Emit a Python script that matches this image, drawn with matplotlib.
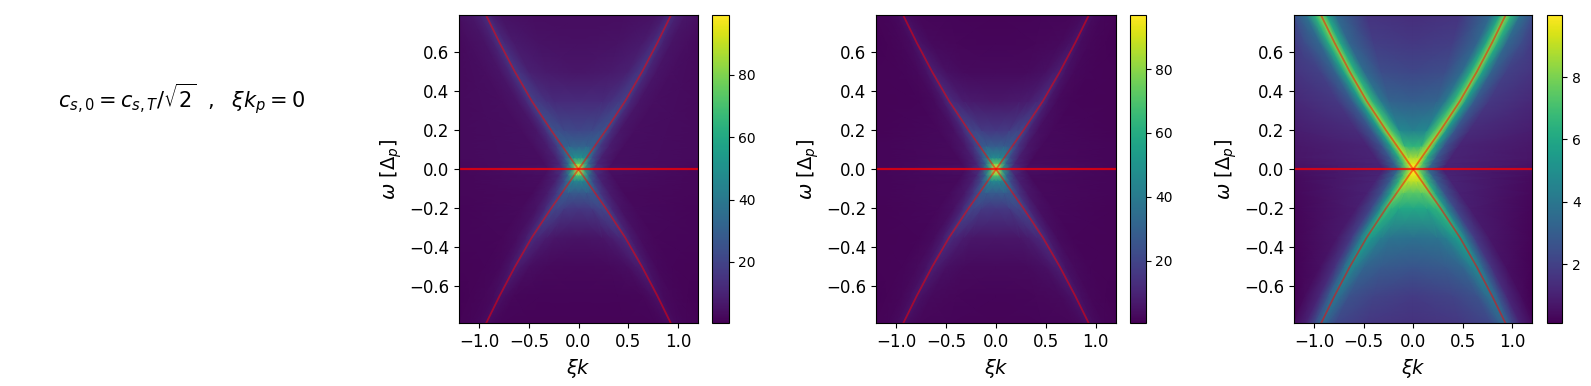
import numpy as np
import matplotlib
matplotlib.use("Agg")
import matplotlib.pyplot as plt

omega = [-0.79, -0.65, -0.5, -0.35, -0.2, -0.12, -0.06, -0.03, 0.0, 0.03, 0.06, 0.12, 0.2, 0.35, 0.5, 0.65, 0.79]
ridge_k = [0.93, 0.795, 0.64, 0.47, 0.275, 0.165, 0.083, 0.042, 0.0, 0.042, 0.083, 0.165, 0.275, 0.47, 0.64, 0.795, 0.93]

xticks = [-1.0, -0.5, 0.0, 0.5, 1.0]
yticks = [-0.6, -0.4, -0.2, 0.0, 0.2, 0.4, 0.6]

# intensity per row: k=0, half way to ridge, ridge-.15, ridge-.06, ridge, ridge+.06, ridge+.15, ridge+.3, edge
left_vals = [
    [1.2, 1.4, 1.8, 2.5, 3.5, 2.5, 1.6, 1.2, 1.0],
    [1.5, 1.8, 2.2, 3.5, 5, 3, 2, 1.3, 1],
    [2.5, 3, 4, 6.5, 8.5, 5, 2.5, 1.5, 1.2],
    [5, 6, 8, 11, 13, 7, 3.5, 2, 1.5],
    [16, 17, 18, 20, 21, 11, 5, 3, 1.8],
    [28, 28, 28, 28, 26, 15, 7, 3, 2],
    [45, 45, 45, 45, 43, 22, 9, 3.5, 2],
    [72, 72, 72, 72, 68, 33, 11, 4, 2],
    [99, 99, 99, 99, 99, 60, 16, 5, 2],
    [76, 76, 76, 76, 70, 34, 11, 4, 2.5],
    [50, 50, 50, 50, 46, 23, 9, 4, 3],
    [31, 31, 31, 31, 29, 16, 8, 4, 3],
    [21, 22, 22, 24, 25, 13, 6, 4, 3],
    [12, 12, 14, 17, 19, 11, 5.5, 4, 3],
    [6, 7, 9, 14, 17, 10, 5.5, 4, 3],
    [4.5, 5, 7, 11, 15, 9, 5, 4, 3],
    [3.5, 4, 5, 8, 13, 9, 6, 4.5, 4],
]
mid_vals = [
    [1.5, 1.7, 2.2, 3.2, 5, 3, 2, 1.5, 1.2],
    [2, 2.3, 3, 4.5, 6.5, 4, 2.3, 1.6, 1.2],
    [3, 3.5, 4.5, 7, 9, 5, 2.8, 1.8, 1.3],
    [6, 6.5, 8, 11, 13, 7, 3.2, 2, 1.5],
    [16, 17, 18, 20, 20, 10.5, 4.5, 2.5, 1.6],
    [28, 28, 28, 28, 26, 15, 6.5, 3, 2],
    [45, 45, 45, 45, 43, 22, 8.5, 3, 2],
    [72, 72, 72, 72, 68, 32, 10, 3.5, 2],
    [97, 97, 97, 97, 97, 59, 15, 4.5, 2],
    [73, 73, 73, 73, 69, 32, 10, 3.5, 2],
    [46, 46, 46, 46, 44, 22, 8.5, 3, 2],
    [28, 28, 28, 28, 26, 15, 6.5, 3, 2],
    [16, 17, 18, 20, 20, 10.5, 4.5, 2.5, 1.6],
    [6.5, 7, 8, 11, 13, 6.5, 3, 2, 1.5],
    [3, 3.5, 4.5, 7, 9, 5, 2.5, 1.8, 1.3],
    [2, 2.3, 3, 4.5, 6.5, 3.5, 2.1, 1.5, 1.2],
    [1.5, 1.8, 2.2, 3.2, 5, 3, 1.8, 1.4, 1.2],
]
right_vals = [
    [1.5, 1.7, 2.2, 3.0, 3.5, 2.3, 1.0, 0.4, 0.1],
    [1.8, 2.1, 2.6, 3.5, 4.0, 2.8, 1.2, 0.4, 0.12],
    [2.7, 2.9, 3.3, 4.2, 4.8, 3.3, 1.5, 0.5, 0.15],
    [3.8, 3.9, 4.3, 5.2, 5.8, 4.0, 1.8, 0.7, 0.2],
    [6.0, 6.0, 6.0, 6.4, 7.0, 4.7, 2.2, 0.9, 0.25],
    [7.4, 7.4, 7.4, 7.6, 8.0, 5.6, 2.6, 1.0, 0.3],
    [9.0, 9.0, 9.0, 9.0, 9.0, 6.5, 3.0, 1.1, 0.35],
    [9.7, 9.7, 9.7, 9.7, 9.5, 7.0, 3.2, 1.1, 0.4],
    [9.98, 9.98, 9.98, 9.98, 9.98, 8.0, 3.5, 1.0, 0.5],
    [9.6, 9.6, 9.6, 9.6, 9.4, 7.0, 3.2, 1.1, 0.6],
    [8.7, 8.7, 8.7, 8.7, 9.0, 6.3, 2.9, 1.1, 0.65],
    [6.5, 6.6, 6.6, 7.5, 8.8, 5.8, 2.7, 1.1, 0.7],
    [4.4, 4.7, 5.0, 7.0, 8.5, 5.5, 2.7, 1.3, 0.9],
    [3.0, 3.2, 4.0, 6.5, 8.3, 5.5, 2.9, 1.7, 1.2],
    [2.2, 2.4, 3.5, 6.2, 8.2, 5.8, 3.2, 2.0, 1.6],
    [1.7, 1.9, 3.3, 6.0, 8.2, 6.2, 3.4, 2.4, 1.8],
    [1.4, 1.6, 3.5, 6.0, 8.2, 6.5, 3.8, 2.5, 2.2],
]

W, H = 1591, 386
fig = plt.figure(figsize=(W / 100, H / 100), dpi=100)


def px_axes(x0, x1, y0, y1):
    return fig.add_axes([x0 / W, 1 - y1 / H, (x1 - x0) / W, (y1 - y0) / H])


def mesh(vals):
    r = np.array(ridge_k)
    half = np.column_stack([
        0 * r,
        0.5 * r,
        np.maximum(0.5 * r, r - 0.15),
        np.maximum(0.5 * r, r - 0.06),
        r,
        r + 0.06,
        np.minimum(r + 0.15, 1.2),
        np.minimum(r + 0.3, 1.2),
        1.2 + 0 * r,
    ])
    kk = np.hstack([-half[:, :0:-1], half])
    ww = np.repeat(np.array(omega)[:, None], kk.shape[1], axis=1)
    z = np.array(vals, dtype=float)
    zz = np.hstack([z[:, :0:-1], z])
    return kk, ww, zz


panels = [
    (left_vals, (459.3, 697.7), (712.3, 728.7), 0.3, 99.1),
    (mid_vals, (876.3, 1115.7), (1130.3, 1145.7), 0.5, 96.8),
    (right_vals, (1294.3, 1532.3), (1547.3, 1562.3), 0.1, 9.98),
]

for vals, xa, xc, vmin, vmax in panels:
    ax = px_axes(xa[0], xa[1], 15.3, 323.3)
    cax = px_axes(xc[0], xc[1], 15.3, 323.3)
    kk, ww, zz = mesh(vals)
    pm = ax.pcolormesh(kk, ww, zz, shading="gouraud", cmap="viridis", vmin=vmin, vmax=vmax)
    fig.colorbar(pm, cax=cax)
    cax.tick_params(labelsize=10)

    # dispersion lines on top
    ax.plot(ridge_k, omega, color="red", lw=1.3, alpha=0.5)
    ax.plot(-np.array(ridge_k), omega, color="red", lw=1.3, alpha=0.5)
    ax.plot([-1.2, 1.2], [0, 0], color="red", lw=1.6, alpha=0.75)

    ax.set_xlim(-1.2, 1.2)
    ax.set_ylim(-0.79, 0.79)
    ax.set_xticks(xticks)
    ax.set_yticks(yticks)
    ax.tick_params(labelsize=12)
    ax.set_xlabel(r"$\xi k$", fontsize=14)
    ax.set_ylabel(r"$\omega\ [\Delta_p]$", fontsize=14)

fig.text(58 / W, 1 - 108 / H, r"$c_{s,0} = c_{s,T}/\sqrt{2}\ \ ,\ \ \xi k_p = 0$", fontsize=15, ha="left", va="baseline")

fig.savefig("out.png", dpi=100)
